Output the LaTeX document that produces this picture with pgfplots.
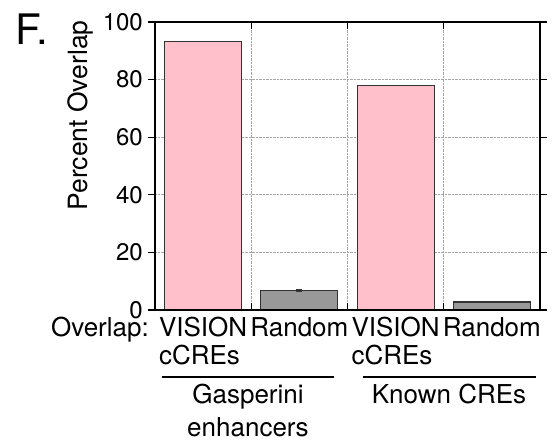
\documentclass[border=0pt]{standalone}
\usepackage{pgfplots}
\pgfplotsset{compat=1.18}
\usepackage{fontspec}
\setmainfont{TeX Gyre Heros}
\definecolor{barpink}{HTML}{FFC0CB}
\definecolor{bargray}{HTML}{999999}
\definecolor{edge}{HTML}{333333}
\newcommand{\two}[2]{\begin{tabular}[t]{@{}l@{}}#1\\#2\end{tabular}}
\begin{document}
\begin{tikzpicture}[font=\fontsize{26}{27}\selectfont]
\path[use as bounding box] (-155pt,-133pt) rectangle (399pt,310pt);
\begin{axis}[
  at={(0pt,0pt)}, anchor=south west,
  width=385pt, height=288pt, scale only axis,
  xmin=-0.5, xmax=3.5, ymin=0, ymax=100,
  ybar, bar width=0.8, bar shift=0pt,
  xtick={0,1,2,3},
  xticklabels={{\two{VISION}{cCREs}},{Random},{\two{VISION}{cCREs}},{Random}},
  xticklabel style={anchor=base, inner sep=0pt, yshift=-20pt, font=\fontsize{26}{27}\selectfont},
  major x tick style={draw=none},
  ytick={0,20,...,100},
  ytick pos=both, yticklabel pos=left,
  yticklabel style={inner sep=0pt, xshift=-5pt, font=\fontsize{24}{27}\selectfont},
  /pgf/number format/assume math mode=true,
  tick align=outside,
  major tick length=7pt,
  tick style={line width=1.2pt, black},
  ymajorgrids,
  grid style={densely dotted, black!35, line width=0.6pt},
  extra x ticks={0.5,1.5,2.5}, extra x tick labels={},
  extra x tick style={grid=major, major tick length=0pt},
  axis line style={line width=1.6pt},
  clip=false,
]
\addplot[fill=barpink, draw=edge, line width=1.2pt] coordinates {(0,93.1) (2,77.9)};
\addplot[fill=bargray, draw=edge, line width=1.2pt,
  error bars/.cd, y dir=both, y explicit,
  error bar style={line width=1pt, color=edge},
  error mark options={rotate=90, mark size=3pt, line width=1pt, color=edge}]
  coordinates {(1,6.8) +- (0,0.3) (3,2.8) +- (0,0.15)};
\end{axis}
\begin{axis}[
  at={(0pt,0pt)}, anchor=south west,
  width=385pt, height=288pt, scale only axis,
  xmin=-0.5, xmax=3.5, ymin=0, ymax=100,
  xtick={0.5,1.5,2.5}, xticklabels={}, ytick=\empty,
  xtick pos=both,
  tick align=inside, major tick length=7pt,
  tick style={line width=1.2pt, black},
  axis line style={line width=1.6pt},
]
\end{axis}
\node[anchor=base east, inner sep=0pt] at (-6pt,-27pt) {Overlap:};
\draw[line width=1.5pt] (7pt,-67pt) -- (179pt,-67pt);
\draw[line width=1.5pt] (208pt,-67pt) -- (381pt,-67pt);
\node[anchor=base, inner sep=0pt] at (93pt,-94pt) {Gasperini};
\node[anchor=base, inner sep=0pt] at (93pt,-127pt) {enhancers};
\node[anchor=base, inner sep=0pt] at (294pt,-94pt) {Known CREs};
\node[rotate=90, anchor=base, inner sep=0pt, font=\fontsize{26.5}{27}\selectfont] at (-67pt,194.5pt) {Percent Overlap};
\node[anchor=base west, inner sep=0pt, font=\fontsize{42}{48}\selectfont] at (-140pt,265pt) {F.};
\end{tikzpicture}
\end{document}
